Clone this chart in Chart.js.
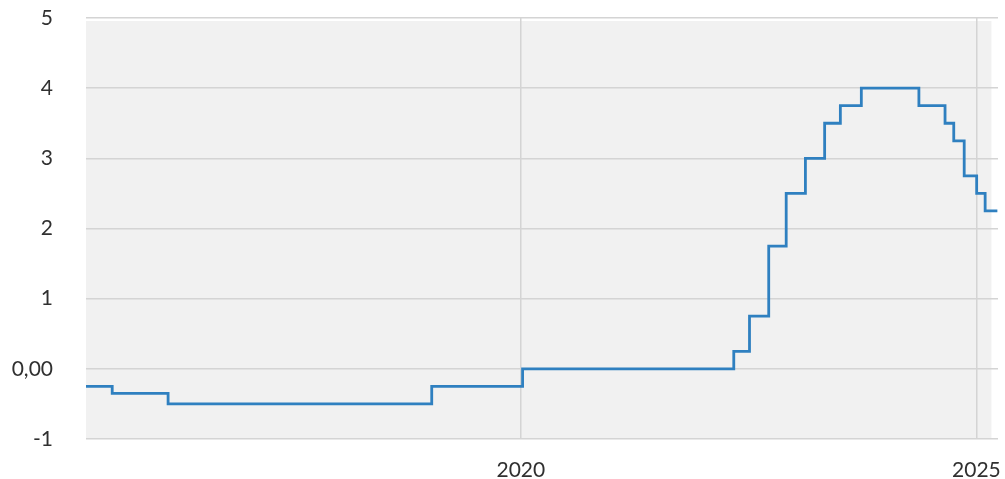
<!DOCTYPE html>
<html>
<head>
<meta charset="utf-8">
<script src="https://cdn.jsdelivr.net/npm/chart.js@4.4.1/dist/chart.umd.min.js"></script>
<style>
  html, body { margin: 0; padding: 0; background: #ffffff; }
  #wrap { width: 1005px; height: 479px; }
</style>
</head>
<body>
<div id="wrap"><canvas id="c" width="1005" height="479"></canvas></div>
<script>
// Effective dates of each rate change
const changeDates = [
  '2015-03-25', '2015-07-08', '2016-02-17', '2019-01-09', '2020-01-08',
  '2022-05-04', '2022-07-06', '2022-09-21', '2022-11-30', '2023-02-15',
  '2023-05-03', '2023-07-05', '2023-09-27', '2024-05-15', '2024-08-28',
  '2024-10-02', '2024-11-13', '2025-01-02', '2025-02-05', '2025-03-26'
];
// Rate valid from each date
const rateValues = [
  -0.25, -0.35, -0.50, -0.25, 0.00,
  0.25, 0.75, 1.75, 2.50, 3.00,
  3.50, 3.75, 4.00, 3.75, 3.50,
  3.25, 2.75, 2.50, 2.25, 2.25
];
const xTickYears = [2020, 2025];
const yTickValues = [-1, 0, 1, 2, 3, 4, 5];

function toDecimalYear(s) {
  const d = new Date(s + 'T00:00:00Z');
  const y = d.getUTCFullYear();
  const start = Date.UTC(y, 0, 1), end = Date.UTC(y + 1, 0, 1);
  return y + (d.getTime() - start) / (end - start);
}

const points = changeDates.map((d, i) => ({ x: toDecimalYear(d), y: rateValues[i] }));

const GRID = '#d4d4d4';
const TEXT = '#303030';
const FONT = { family: 'Lato, "Open Sans", sans-serif', size: 21 };

const bgPlugin = {
  id: 'plotBg',
  beforeDraw(chart) {
    const { ctx, chartArea } = chart;
    const xs = chart.scales.x;
    const right = xs.getPixelForValue(2025.165);
    ctx.save();
    ctx.fillStyle = '#f1f1f1';
    ctx.fillRect(chartArea.left, chartArea.top + 3, right - chartArea.left, chartArea.bottom - chartArea.top - 3);
    ctx.restore();
  }
};

new Chart(document.getElementById('c'), {
  type: 'line',
  data: {
    datasets: [{
      data: points,
      borderColor: '#2f80c0',
      borderWidth: 2.8,
      pointRadius: 0,
      stepped: 'before',
      fill: false
    }]
  },
  options: {
    responsive: false,
    animation: false,
    layout: { padding: { top: 18, right: 7, left: 0, bottom: 0 } },
    plugins: { legend: { display: false }, tooltip: { enabled: false } },
    scales: {
      x: {
        type: 'linear',
        min: toDecimalYear(changeDates[0]),
        max: 2025.237,
        afterBuildTicks(scale) { scale.ticks = xTickYears.map(v => ({ value: v })); },
        afterFit(scale) {
          scale.height = 40;
          scale.paddingLeft = 0; scale.paddingRight = 0;
          scale.paddingTop = 0; scale.paddingBottom = 0;
        },
        grid: { color: GRID, lineWidth: 1.5, drawTicks: false },
        border: { display: false },
        ticks: {
          padding: 19,
          color: TEXT,
          font: FONT,
          maxRotation: 0,
          autoSkip: false,
          callback: v => String(v)
        }
      },
      y: {
        min: -1,
        max: 5,
        afterBuildTicks(scale) { scale.ticks = yTickValues.map(v => ({ value: v })); },
        afterFit(scale) {
          scale.width = 86;
          scale.paddingLeft = 0; scale.paddingRight = 0;
          scale.paddingTop = 0; scale.paddingBottom = 0;
        },
        grid: { color: GRID, lineWidth: 1.5, drawTicks: false },
        border: { display: false },
        ticks: {
          padding: 33,
          color: TEXT,
          font: FONT,
          callback: v => (v === 0 ? '0,00' : String(v))
        }
      }
    }
  },
  plugins: [bgPlugin]
});
</script>
</body>
</html>
